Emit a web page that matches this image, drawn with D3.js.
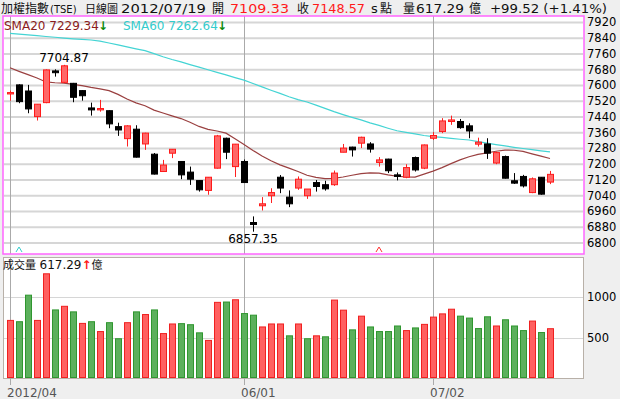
<!DOCTYPE html>
<html>
<head>
<meta charset="utf-8">
<script src="https://cdn.jsdelivr.net/npm/d3@7"></script>
<style>
  body { margin: 0; background: #efefef; }
  svg { display: block; font-family: "DejaVu Sans", "Noto Sans CJK TC", sans-serif; }
</style>
</head>
<body>
<div class="chart"></div>
<script>
// daily candles, 2012/04 .. 2012/07/19
const opens  = [7557,7603,7572,7442,7513,7674,7616,7611,7574,7486,7476,7472,7391,7330,7378,7303,7251,7163,7256,7214,
                7160,7117,7067,7180,7332,7188,7214,6904,6989,7040,7134,7033,7079,7040,7107,7096,7096,7261,7287,7307,
                7303,7209,7226,7146,7134,7234,7180,7332,7366,7417,7417,7395,7302,7303,7206,7239,7116,7138,7056,7134,7109.33];
const highs  = [7574,7606,7603,7505,7682,7682,7704.87,7613,7576,7513,7527,7474,7411,7398,7398,7360,7257,7222,7277,7216,
                7188,7119,7135,7349,7335,7303,7224,6935,7033,7078,7145,7067,7138,7074,7120,7116,7168,7303,7289,7340,
                7312,7236,7228,7158,7200,7239,7300,7363,7434,7447,7430,7408,7335,7332,7264,7244,7155,7146,7133,7135,7166];
const lows   = [7523,7510,7459,7422,7510,7645,7612,7515,7523,7447,7467,7383,7344,7290,7234,7273,7148,7162,7231,7124,
                7095,7061,7045,7178,7226,7135,7105,6857.35,6965,7003,7053,6982,7070,7024,7061,7066,7090,7261,7239,7282,
                7259,7188,7155,7118,7129,7163,7175,7323,7358,7400,7380,7332,7290,7227,7200,7127,7100,7082,7053,7045,7099];
const closes = [7564,7518,7481,7505,7679,7665,7700,7540,7548,7476,7483,7405,7374,7395,7236,7358,7150,7196,7276,7146,
                7124,7070,7134,7344,7261,7302,7107,6894,6999,7056,7079,6999,7124,7074,7087,7075,7155,7282,7273,7337,
                7277,7222,7167,7138,7183,7171,7298,7346,7420,7425,7386,7369,7312,7256,7259,7129,7104,7090,7126,7048,7148.57];

// moving averages
const sma20 = [7690,7672,7655,7638,7618,7614,7612,7606,7599,7590,7583,7574,7555,7531,7512,7497,7475,7460,7446,7432,
               7413,7392,7377,7369,7358,7330,7300,7270,7242,7218,7197,7180,7163,7144,7133,7127,7128,7135,7144,7152,
               7156,7155,7146,7139,7136,7135,7150,7165,7183,7203,7222,7238,7250,7258,7266,7272,7271,7265,7253,7241,7229.34];
const sma60 = [7865,7861,7857,7853,7849,7845,7841,7837,7834,7831,7825,7816,7806,7796,7786,7777,7762,7746,7732,7720,
               7706,7693,7680,7667,7654,7640,7627,7610,7593,7576,7560,7543,7528,7516,7500,7484,7467,7452,7438,7425,
               7410,7397,7383,7370,7362,7354,7346,7340,7336,7331,7327,7323,7315,7307,7300,7293,7286,7280,7274,7268,7262.64];

// volume (億) and up/down day flag
const volumes = [720,704,1033,720,1298,850,895,826,683,704,582,692,493,692,826,793,850,557,676,680,
                 667,566,472,944,948,976,805,785,639,676,676,529,676,493,529,517,972,847,603,773,
                 639,582,582,651,594,627,671,761,801,859,773,749,619,765,651,728,651,594,712,570,617.29];
const volUp = [1,0,0,1,1,0,1,0,1,0,1,0,0,1,0,1,0,1,1,0,
               0,0,1,1,0,1,0,0,1,1,1,0,1,0,1,0,1,1,0,1,
               0,0,0,0,1,0,1,1,1,1,0,0,0,0,1,0,0,0,1,0,1];

const priceTicks = d3.range(6800, 7921, 80);
const volTicks = [500, 1000];
const dateTickIdx = [0, 26, 47];
const dateTickLabels = ["2012/04", "06/01", "07/02"];
const markers = [{i: 1, color: "#33cccc"}, {i: 41, color: "#ff3333"}];

const width = 620, height = 399;

const svg = d3.select(".chart")
    .append("svg")
    .attr("width", width)
    .attr("height", height);

const xScale = d3.scaleLinear().domain([0, 60]).range([10, 550]);
const yPrice = d3.scaleLinear().domain([6744, 7953]).range([254, 16]);
const yVol = d3.scaleLinear().domain([0, 1500]).range([378, 257]);

// panels
svg.append("rect").attr("x", 3).attr("y", 16).attr("width", 581).attr("height", 238)
    .attr("fill", "white");
svg.append("rect").attr("x", 3.5).attr("y", 257.5).attr("width", 580).attr("height", 121)
    .attr("fill", "white").attr("stroke", "#b8b0a8");

// horizontal grid
svg.selectAll(".pgrid")
    .data(priceTicks)
    .enter()
    .append("line")
    .attr("x1", 4).attr("x2", 583)
    .attr("y1", d => yPrice(d)).attr("y2", d => yPrice(d))
    .attr("stroke", "#d6d6d6").attr("stroke-width", 2);

svg.selectAll(".vgrid")
    .data(volTicks)
    .enter()
    .append("line")
    .attr("x1", 4).attr("x2", 583)
    .attr("y1", d => Math.round(yVol(d)) + 0.5).attr("y2", d => Math.round(yVol(d)) + 0.5)
    .attr("stroke", "#d6d6d6");

// vertical grid (month starts)
dateTickIdx.forEach(i => {
    const gx = Math.round(xScale(i)) + 0.5;
    svg.append("line").attr("x1", gx).attr("x2", gx).attr("y1", 16).attr("y2", 254)
        .attr("stroke", "#aaa");
    svg.append("line").attr("x1", gx).attr("x2", gx).attr("y1", 258).attr("y2", 385)
        .attr("stroke", "#aaa");
});

// moving averages
const line = d3.line().x((d, i) => xScale(i)).y(d => yPrice(d));
svg.append("path").datum(sma60)
    .attr("fill", "none").attr("stroke", "#44d4d4").attr("stroke-width", 1.2)
    .attr("d", line);
svg.append("path").datum(sma20)
    .attr("fill", "none").attr("stroke", "#9a4040").attr("stroke-width", 1.2)
    .attr("d", line);

// candles
const candles = opens.map((o, i) => ({i: i, o: o, h: highs[i], l: lows[i], c: closes[i]}));

svg.selectAll(".wick")
    .data(candles)
    .enter()
    .append("line")
    .attr("x1", d => xScale(d.i) + 0.5).attr("x2", d => xScale(d.i) + 0.5)
    .attr("y1", d => yPrice(d.h)).attr("y2", d => yPrice(d.l))
    .attr("stroke", d => d.c >= d.o ? "#ff2020" : "#000");

svg.selectAll(".body")
    .data(candles)
    .enter()
    .append("rect")
    .attr("x", d => xScale(d.i) - 2.5)
    .attr("width", 6)
    .attr("y", d => yPrice(Math.max(d.o, d.c)))
    .attr("height", d => Math.max(1, yPrice(Math.min(d.o, d.c)) - yPrice(Math.max(d.o, d.c))))
    .attr("fill", d => d.c >= d.o ? "#ff6868" : "#000")
    .attr("stroke", d => d.c >= d.o ? "#ff1a1a" : "#000");

// volume bars
svg.selectAll(".vol")
    .data(volumes)
    .enter()
    .append("rect")
    .attr("x", (d, i) => xScale(i) - 2.5)
    .attr("width", 6)
    .attr("y", d => yVol(d) + 0.5)
    .attr("height", d => yVol(0) - yVol(d) - 1)
    .attr("fill", (d, i) => volUp[i] ? "#ff6060" : "#5cb05c")
    .attr("stroke", (d, i) => volUp[i] ? "#f02020" : "#2f962f");

// price panel border
svg.append("rect").attr("x", 3).attr("y", 16).attr("width", 581).attr("height", 238)
    .attr("fill", "none").attr("stroke", "#ff66ff").attr("stroke-width", 1.5);

// right axis labels
svg.selectAll(".plabel")
    .data(priceTicks)
    .enter()
    .append("text")
    .attr("x", 587).attr("y", d => yPrice(d) + 4)
    .attr("font-size", 11.5)
    .text(d => d);

svg.selectAll(".vlabel")
    .data(volTicks)
    .enter()
    .append("text")
    .attr("x", 587).attr("y", d => yVol(d) + 4)
    .attr("font-size", 11.5)
    .text(d => d);

// date labels
svg.selectAll(".dlabel")
    .data(dateTickIdx)
    .enter()
    .append("text")
    .attr("x", d => xScale(d) - 3)
    .attr("y", 397)
    .attr("font-size", 12)
    .attr("fill", "#555")
    .text((d, i) => dateTickLabels[i]);

// high / low annotations
const hiIdx = highs.indexOf(d3.max(highs));
const loIdx = lows.indexOf(d3.min(lows));
svg.append("text").attr("x", xScale(hiIdx)).attr("y", yPrice(highs[hiIdx]) - 3)
    .attr("text-anchor", "middle").attr("font-size", 12)
    .text(highs[hiIdx].toFixed(2));
svg.append("text").attr("x", xScale(loIdx)).attr("y", yPrice(lows[loIdx]) + 11)
    .attr("text-anchor", "middle").attr("font-size", 12)
    .text(lows[loIdx].toFixed(2));

// small markers along the bottom of price panel
svg.selectAll(".mark")
    .data(markers)
    .enter()
    .append("path")
    .attr("d", d => `M${xScale(d.i) - 3},252 L${xScale(d.i)},247 L${xScale(d.i) + 3},252`)
    .attr("fill", "none")
    .attr("stroke", d => d.color);

// header
const last = opens.length - 1;
const header = [
    {t: "加權指數", x: 1, size: 12},
    {t: "(TSE)", x: 50, size: 10},
    {t: "日線圖", x: 85, size: 11},
    {t: "2012/07/19", x: 121, len: 85},
    {t: "開", x: 212, size: 12},
    {t: opens[last].toFixed(2), x: 230, c: "#ff1a1a", len: 59},
    {t: "收", x: 297, size: 12},
    {t: closes[last].toFixed(2), x: 312, c: "#ff1a1a", len: 53},
    {t: "s", x: 371},
    {t: "點", x: 380, size: 12},
    {t: "量", x: 403, size: 12},
    {t: volumes[last].toFixed(2), x: 416, len: 48},
    {t: "億", x: 469, size: 12},
    {t: "+99.52 (+1.41%)", x: 490, len: 117}
];
svg.selectAll(".head")
    .data(header)
    .enter()
    .append("text")
    .attr("x", d => d.x)
    .attr("y", 13)
    .attr("font-size", d => d.size || 13)
    .attr("fill", d => d.c || "#111")
    .attr("textLength", d => d.len || null)
    .attr("lengthAdjust", "spacingAndGlyphs")
    .text(d => d.t);

// SMA legend
svg.append("text").attr("x", 4).attr("y", 30).attr("font-size", 12).attr("fill", "#8b1c1c")
    .text("SMA20 " + sma20[last].toFixed(2));
svg.append("text").attr("x", 98).attr("y", 30).attr("font-size", 12).attr("font-weight", "bold")
    .attr("fill", "#0a8a0a").text("↓");
svg.append("text").attr("x", 123).attr("y", 30).attr("font-size", 12).attr("fill", "#33cccc")
    .text("SMA60 " + sma60[last].toFixed(2));
svg.append("text").attr("x", 217).attr("y", 30).attr("font-size", 12).attr("font-weight", "bold")
    .attr("fill", "#0a8a0a").text("↓");

// volume legend
const vt = svg.append("text").attr("x", 3).attr("y", 269).attr("font-size", 12).attr("fill", "#111");
vt.append("tspan").attr("font-size", 11).text("成交量 ");
vt.append("tspan").text(volumes[last].toFixed(2));
vt.append("tspan").attr("fill", "#ff1a1a").attr("font-weight", "bold").text("↑");
vt.append("tspan").attr("font-size", 11).text("億");
</script>
</body>
</html>
